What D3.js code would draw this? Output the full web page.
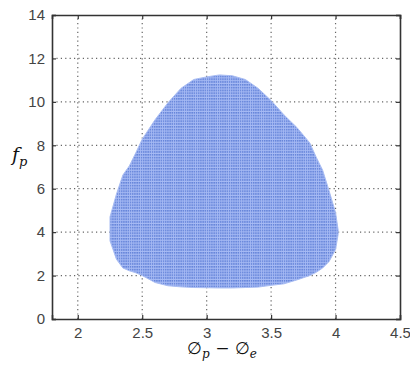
<!DOCTYPE html>
<html>
<head>
<meta charset="utf-8">
<script src="https://cdn.jsdelivr.net/npm/d3@7"></script>
<style>
  body { margin: 0; background: #fff; }
  svg text { font-family: "Liberation Sans", Arial, sans-serif; }
</style>
</head>
<body>
<div id="chart"></div>
<script>
// phase difference (x) and the lower / upper edge of the feasible fp region
var phase = [2.25, 2.30, 2.35, 2.40, 2.45, 2.50, 2.60, 2.70, 2.80, 2.90, 3.00, 3.10,
             3.20, 3.30, 3.40, 3.50, 3.60, 3.70, 3.80, 3.85, 3.90, 3.95, 4.00, 4.02];
var fpLow = [3.6, 2.75, 2.35, 2.22, 2.13, 2.0, 1.68, 1.53, 1.48, 1.45, 1.44, 1.43,
             1.43, 1.45, 1.47, 1.55, 1.62, 1.8, 2.0, 2.15, 2.35, 2.65, 3.2, 3.9];
var fpHigh = [4.7, 5.75, 6.63, 7.05, 7.65, 8.28, 9.18, 9.96, 10.62, 11.03, 11.15, 11.24,
              11.2, 11.03, 10.62, 10.06, 9.4, 8.82, 8.11, 7.45, 6.85, 5.9, 4.9, 4.1];
var xTicks = [2, 2.5, 3, 3.5, 4, 4.5];
var yTicks = [0, 2, 4, 6, 8, 10, 12, 14];

var W = 410, H = 365;
var margin = {left: 52, right: 10, top: 15, bottom: 46};

var x = d3.scaleLinear().domain([1.8, 4.5]).range([margin.left, W - margin.right]);
var y = d3.scaleLinear().domain([0, 14]).range([H - margin.bottom, margin.top]);

var svg = d3.select('#chart').append('svg')
    .attr('width', W)
    .attr('height', H);

// dotted point texture for the region
var defs = svg.append('defs');
var pat = defs.append('pattern')
    .attr('id', 'dots')
    .attr('patternUnits', 'userSpaceOnUse')
    .attr('width', 2.2)
    .attr('height', 2.8);
pat.append('rect').attr('width', 2.2).attr('height', 2.8).attr('fill', '#a6baf4');
pat.append('rect').attr('width', 1.5).attr('height', 1.6).attr('fill', '#6685da');

// grid
var grid = svg.append('g')
    .attr('stroke', '#666')
    .attr('stroke-width', 1.2)
    .attr('stroke-dasharray', '1.2,3.2');
grid.selectAll('.vx').data(xTicks.filter(function (d) { return d < 4.5; }))
  .enter().append('line')
    .attr('x1', function (d) { return x(d); })
    .attr('x2', function (d) { return x(d); })
    .attr('y1', y(0)).attr('y2', y(14));
grid.selectAll('.hy').data(yTicks.filter(function (d) { return d > 0 && d < 14; }))
  .enter().append('line')
    .attr('y1', function (d) { return y(d); })
    .attr('y2', function (d) { return y(d); })
    .attr('x1', x(1.8)).attr('x2', x(4.5));

// the region
var pts = phase.map(function (p, i) { return {x: p, lo: fpLow[i], hi: fpHigh[i]}; });
var area = d3.area()
    .x(function (d) { return x(d.x); })
    .y0(function (d) { return y(d.lo); })
    .y1(function (d) { return y(d.hi); });
svg.append('path')
    .datum(pts)
    .attr('d', area)
    .attr('fill', 'url(#dots)')
    .attr('stroke', '#a9bdf3')
    .attr('stroke-width', 1);

// axes (inward ticks on all sides)
function fmt(d) { return d3.format('')(d); }
var axB = svg.append('g').attr('transform', 'translate(0,' + y(0) + ')')
    .call(d3.axisBottom(x).tickValues(xTicks).tickSize(-4).tickPadding(8).tickFormat(fmt));
var axL = svg.append('g').attr('transform', 'translate(' + x(1.8) + ',0)')
    .call(d3.axisLeft(y).tickValues(yTicks).tickSize(-4).tickPadding(7).tickFormat(fmt));
var axT = svg.append('g').attr('transform', 'translate(0,' + y(14) + ')')
    .call(d3.axisTop(x).tickValues(xTicks).tickSize(-4).tickFormat(''));
var axR = svg.append('g').attr('transform', 'translate(' + x(4.5) + ',0)')
    .call(d3.axisRight(y).tickValues(yTicks).tickSize(-4).tickFormat(''));

[axB, axL, axT, axR].forEach(function (a) {
  a.select('.domain').attr('stroke', '#333').attr('stroke-width', 1.6);
  a.selectAll('.tick line').attr('stroke', '#333').attr('stroke-width', 1.2);
  a.selectAll('.tick text').attr('fill', '#444').style('font-size', '15px');
});

// axis titles
var xl = svg.append('text')
    .attr('x', 222)
    .attr('y', 354)
    .attr('text-anchor', 'middle')
    .style('font-family', '"DejaVu Serif", serif')
    .style('font-size', '17px')
    .attr('fill', '#111');
xl.append('tspan').text('\u2205');
xl.append('tspan').attr('dy', 4).style('font-size', '12px').style('font-style', 'italic').text('p');
xl.append('tspan').attr('dy', -4).text(' \u2212 \u2205');
xl.append('tspan').attr('dy', 4).style('font-size', '12px').style('font-style', 'italic').text('e');

var yl = svg.append('text')
    .attr('x', 12)
    .attr('y', 161)
    .style('font-family', '"DejaVu Serif", serif')
    .style('font-size', '19px')
    .style('font-style', 'italic')
    .attr('fill', '#111');
yl.append('tspan').text('f');
yl.append('tspan').attr('dy', 5).style('font-size', '13px').text('p');
</script>
</body>
</html>
